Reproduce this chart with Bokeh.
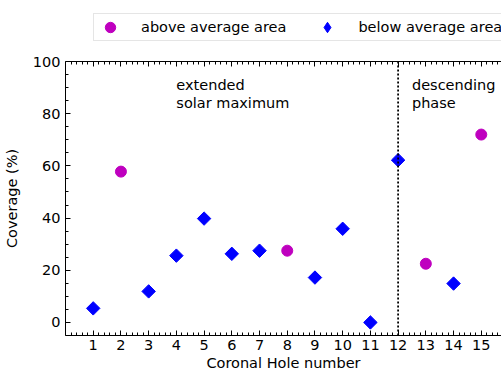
import numpy as np
from bokeh.plotting import figure
from bokeh.layouts import column
from bokeh.models import Legend, LegendItem, LinearAxis, Span, FixedTicker
from bokeh.core.properties import value
from bokeh.embed import file_html
from bokeh.resources import INLINE

# data
above_x = [2, 8, 13, 15]
above_y = [57.8, 27.5, 22.5, 72.0]
below_x = [1, 3, 4, 5, 6, 7, 9, 10, 11, 12, 14]
below_y = [5.4, 11.9, 25.6, 39.8, 26.3, 27.5, 17.2, 35.9, 0.0, 62.2, 14.9]
x_ticks = list(range(1, 16))
y_ticks = [0, 20, 40, 60, 80, 100]
phase_boundary = 12
labels = ["extended\nsolar maximum", "descending\nphase"]
label_x = [4.0, 12.5]
label_y = [94, 94]
series_names = ["above average area", "below average area"]

FONT = "DejaVu Sans"
FS = "14.5px"
MAG = "#bf00bf"
BLUE = "#0000ff"

# ---- legend strip (same series, plotted outside this strip's view) ----
lf = figure(width=501, height=45, x_range=(-20, -19), y_range=(-20, -19),
            output_backend="svg", toolbar_location=None,
            x_axis_location=None, y_axis_location=None,
            min_border_left=0, min_border_right=0, min_border_top=0, min_border_bottom=0)
lf.grid.visible = False
lf.outline_line_color = None
lr1 = lf.scatter(above_x, above_y, marker="circle", size=11, color=MAG)
lr2 = lf.scatter(below_x, below_y, marker="diamond", size=13, color=BLUE)
legend = Legend(items=[LegendItem(label=series_names[0], renderers=[lr1]),
                       LegendItem(label=series_names[1], renderers=[lr2])],
                orientation="horizontal", location=(28, 4))
legend.label_text_font = FONT
legend.label_text_font_size = FS
legend.label_text_color = "black"
legend.padding = 0
legend.glyph_width = 32
legend.glyph_height = 26
legend.label_height = 26
legend.label_standoff = 15
legend.spacing = 25
legend.margin = 0
legend.border_line_color = "#cccccc"
legend.background_fill_alpha = 1
lf.add_layout(legend, "center")

# ---- main plot ----
p = figure(width=501, height=328, x_range=(0, 15.73), y_range=(-5, 100),
           output_backend="svg", toolbar_location=None,
           min_border_left=65, min_border_right=0, min_border_top=16, min_border_bottom=37,
           x_axis_label="Coronal Hole number", y_axis_label="Coverage (%)")
p.outline_line_color = None
p.xgrid.visible = False
p.ygrid.visible = False

def style_axis(ax):
    ax.major_tick_in = 5
    ax.major_tick_out = 0
    ax.minor_tick_in = 3
    ax.minor_tick_out = 0
    ax.axis_line_color = "black"
    ax.axis_line_width = 1
    ax.major_label_text_font = FONT
    ax.major_label_text_font_size = FS
    ax.major_label_text_color = "black"
    ax.axis_label_text_font = FONT
    ax.axis_label_text_font_size = FS
    ax.axis_label_text_font_style = "normal"
    ax.axis_label_text_color = "black"

xminor = [round(i * 0.2, 2) for i in range(0, 79) if i % 5 != 0]
yminor = [v for v in range(-5, 101, 5) if v % 20 != 0]

xa = p.xaxis[0]
style_axis(xa)
xa.ticker = FixedTicker(ticks=x_ticks, minor_ticks=xminor)
xa.major_label_standoff = 4
xa.axis_label_standoff = 2

ya = p.yaxis[0]
style_axis(ya)
ya.ticker = FixedTicker(ticks=y_ticks, minor_ticks=yminor)
ya.major_label_standoff = 5
ya.axis_label_standoff = 10

top = LinearAxis()
style_axis(top)
top.ticker = FixedTicker(ticks=x_ticks, minor_ticks=xminor)
top.major_label_text_font_size = "0px"
top.major_label_text_color = None
top.major_label_standoff = 0
p.add_layout(top, "above")

p.add_layout(Span(location=phase_boundary, dimension="height", line_color="black",
                  line_width=1.8, line_dash="2 2"))

p.scatter(above_x, above_y, marker="circle", size=11, color=MAG)
p.scatter(below_x, below_y, marker="square", angle=np.pi / 4, size=9.5, color=BLUE)

p.text(x=label_x, y=label_y, text=labels, text_font=value(FONT), text_font_size=FS,
       text_baseline="top", text_align="left", text_color="black", text_line_height=1.1)

layout = column(lf, p, spacing=0)
open("out.html", "w").write(file_html(layout, INLINE))
